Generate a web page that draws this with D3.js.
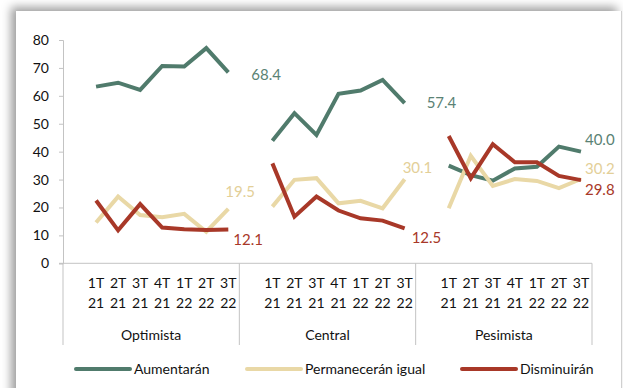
<!DOCTYPE html>
<html>
<head>
<meta charset="utf-8">
<script src="https://cdn.jsdelivr.net/npm/d3@7/dist/d3.min.js"></script>
<style>
  html, body { margin: 0; padding: 0; background: #fff; overflow: hidden; }
  #frame {
    position: absolute; left: 16px; top: 11px; width: 605px; height: 400px;
    background: #fff; box-shadow: -5px -4px 9px rgba(0,0,0,0.38);
    border-right: 1px solid #d0d0d0;
  }
  svg { position: absolute; left: 0; top: 0; }
  text { font-family: Lato, "Noto Sans", sans-serif; }
</style>
</head>
<body>
<div id="frame"></div>
<svg id="chart" width="623" height="388"></svg>
<script>
// Scenario groups and the quarters inside each group
const scenarios = ["Optimista", "Central", "Pesimista"];
const quarters = ["1T 21", "2T 21", "3T 21", "4T 21", "1T 22", "2T 22", "3T 22"];
const yTicks = [0, 10, 20, 30, 40, 50, 60, 70, 80];

// Values per scenario, in quarter order
const aumentaran = [
  [63.3, 64.7, 62.1, 70.7, 70.5, 77.1, 68.4],
  [43.9, 53.8, 46.0, 60.7, 61.9, 65.7, 57.4],
  [35.0, 31.6, 29.6, 34.0, 34.6, 41.8, 40.0]
];
const permaneceran = [
  [14.6, 23.9, 17.3, 16.5, 17.7, 11.3, 19.5],
  [20.3, 29.9, 30.5, 21.5, 22.4, 19.7, 30.1],
  [19.7, 38.5, 27.7, 30.2, 29.5, 26.9, 30.2]
];
const disminuiran = [
  [22.5, 11.8, 21.2, 12.8, 12.2, 11.9, 12.1],
  [35.8, 16.7, 23.9, 18.9, 16.1, 15.3, 12.5],
  [45.6, 30.5, 42.7, 36.2, 36.2, 31.3, 29.8]
];

const series = [
  { name: "Aumentarán", values: aumentaran, color: "#507b6c", labelColor: "#5a8274",
    labelOffsets: [[23, 2], [22, 0], [4, -12]] },
  { name: "Permanecerán igual", values: permaneceran, color: "#e9d8a6", labelColor: "#e3cf98",
    labelOffsets: [[-3, -17], [-2, -12], [4, -10]] },
  { name: "Disminuirán", values: disminuiran, color: "#a83828", labelColor: "#a83828",
    labelOffsets: [[5, 10], [7, 9], [4, 10]] }
];

const svg = d3.select("#chart");
const plotLeft = 63, plotRight = 592, plotTop = 40, plotBottom = 263.3;

const xGroup = d3.scaleBand().domain(scenarios).range([plotLeft, plotRight]).padding(0);
// one leading empty slot in every group, then the quarters
const xSlot = d3.scaleBand().domain(d3.range(quarters.length + 1)).range([0, xGroup.bandwidth()]).padding(0);
const xPos = (g, i) => xGroup(scenarios[g]) + xSlot(i + 1) + xSlot.bandwidth() / 2;
const y = d3.scaleLinear().domain([0, 80]).range([plotBottom, plotTop]);

const axisColor = "#c3c3c3";

// y axis
const yAxis = svg.append("g").attr("transform", `translate(${plotLeft},0)`)
  .call(d3.axisLeft(y).tickValues(yTicks).tickSize(4).tickPadding(10).tickFormat(d3.format("d")));
yAxis.select(".domain").attr("stroke", axisColor);
yAxis.selectAll(".tick line").attr("stroke", axisColor);
yAxis.selectAll(".tick text").attr("font-size", 14).attr("fill", "#111")
  .style("font-family", "Lato, 'Noto Sans', sans-serif");

// category axis baseline and group separators
svg.append("line").attr("x1", plotLeft - 4).attr("x2", plotRight).attr("y1", plotBottom).attr("y2", plotBottom)
  .attr("stroke", axisColor);
const seps = scenarios.map(s => xGroup(s)).concat([plotRight]);
svg.selectAll(".sep").data(seps).join("line").attr("class", "sep")
  .attr("x1", d => d).attr("x2", d => d).attr("y1", plotBottom).attr("y2", 345)
  .attr("stroke", axisColor);

// quarter labels (two lines) and scenario labels
scenarios.forEach((s, g) => {
  quarters.forEach((q, i) => {
    const parts = q.split(" ");
    const t = svg.append("text").attr("x", xPos(g, i)).attr("text-anchor", "middle")
      .attr("font-size", 14).attr("fill", "#111");
    t.append("tspan").attr("x", xPos(g, i)).attr("y", 288).text(parts[0]);
    t.append("tspan").attr("x", xPos(g, i)).attr("y", 308).text(parts[1]);
  });
  svg.append("text").attr("x", xGroup(s) + xGroup.bandwidth() / 2).attr("y", 340)
    .attr("text-anchor", "middle").attr("font-size", 14).attr("fill", "#111").text(s);
});

// lines, one segment per scenario
const line = d3.line().x(d => d.x).y(d => d.y).curve(d3.curveLinear);
series.forEach(se => {
  se.values.forEach((vals, g) => {
    const pts = vals.map((v, i) => ({ x: xPos(g, i), y: y(v) }));
    svg.append("path").attr("d", line(pts)).attr("fill", "none")
      .attr("stroke", se.color).attr("stroke-width", 4)
      .attr("stroke-linejoin", "miter").attr("stroke-miterlimit", 4);
  });
});

// end-of-segment value labels
series.forEach(se => {
  se.values.forEach((vals, g) => {
    const last = vals.length - 1;
    const [dx, dy] = se.labelOffsets[g];
    svg.append("text").attr("x", xPos(g, last) + dx).attr("y", y(vals[last]) + dy)
      .attr("dy", "0.35em").attr("font-size", 15).attr("fill", se.labelColor)
      .text(d3.format(".1f")(vals[last]));
  });
});

// legend
const legendX = [76, 247, 462];
series.forEach((se, k) => {
  const lx = legendX[k];
  svg.append("line").attr("x1", lx).attr("x2", lx + 54).attr("y1", 369).attr("y2", 369)
    .attr("stroke", se.color).attr("stroke-width", 4).attr("stroke-linecap", "round");
  svg.append("text").attr("x", lx + 58).attr("y", 369).attr("dy", "0.35em")
    .attr("font-size", 14).attr("fill", "#111").text(se.name);
});
</script>
</body>
</html>
